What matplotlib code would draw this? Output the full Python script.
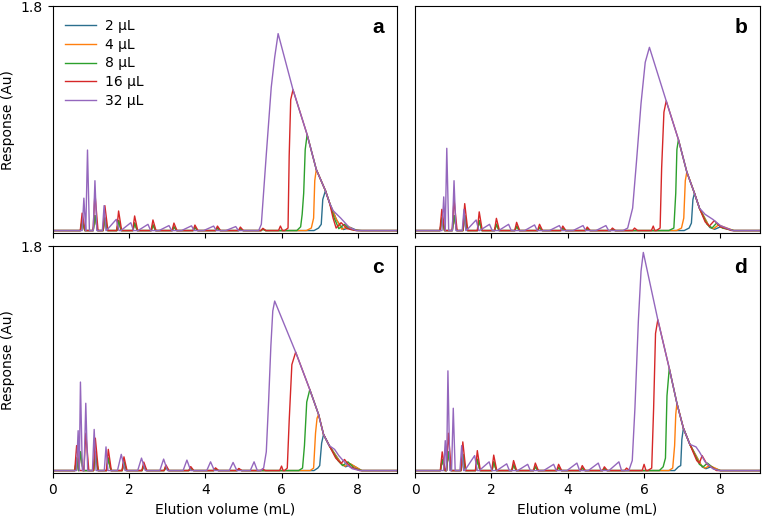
import matplotlib
matplotlib.use("Agg")
import matplotlib.pyplot as plt

# injection volumes and colours
labels = ["2 µL", "4 µL", "8 µL", "16 µL", "32 µL"]
colors = ["#2b6f8e", "#ff7f0e", "#2ca02c", "#d62728", "#9467bd"]
panel_names = ["a", "b", "c", "d"]

# ---- small oligomer peaks (apex x, height) ----
a_red = [(0.775, 0.14), (1.11, 0.30), (1.37, 0.20), (1.73, 0.157), (2.15, 0.117), (2.63, 0.085),
         (3.18, 0.06), (3.73, 0.044), (4.32, 0.036), (4.92, 0.028), (5.51, 0.018), (5.97, 0.036)]
a_low = [(0.775, 0.08), (1.11, 0.12), (1.37, 0.10), (1.73, 0.08), (2.15, 0.06), (2.63, 0.045),
         (3.18, 0.03), (3.73, 0.025), (4.32, 0.02), (4.92, 0.015), (5.51, 0.012)]
a_purple_spikes = [(0.82, 0.26), (0.915, 0.646), (1.11, 0.40), (1.35, 0.20)]
a_purple_bumps = [(1.67, 0.09), (2.05, 0.063), (2.50, 0.05), (3.05, 0.04), (3.64, 0.038),
                  (4.22, 0.036), (4.80, 0.032), (5.40, 0.04)]

b_red = [(0.70, 0.17), (1.02, 0.25), (1.30, 0.216), (1.68, 0.15), (2.13, 0.098), (2.66, 0.066),
         (3.26, 0.05), (3.87, 0.036), (4.51, 0.028), (5.17, 0.02), (5.75, 0.02), (6.24, 0.036)]
b_low = [(0.70, 0.10), (1.02, 0.12), (1.30, 0.12), (1.68, 0.08), (2.13, 0.05), (2.66, 0.035),
         (3.26, 0.025), (3.87, 0.02), (4.51, 0.015), (5.17, 0.01)]
b_purple_spikes = [(0.75, 0.27), (0.83, 0.66), (1.02, 0.40), (1.28, 0.17)]
b_purple_bumps = [(1.60, 0.085), (1.95, 0.05), (2.45, 0.05), (3.13, 0.045), (3.78, 0.04),
                  (4.40, 0.04), (5.00, 0.04), (5.55, 0.045)]

c_red = [(0.63, 0.20), (0.87, 0.30), (1.12, 0.26), (1.46, 0.17), (1.87, 0.11), (2.39, 0.068),
         (2.97, 0.045), (3.62, 0.032), (4.27, 0.022), (4.88, 0.017), (5.50, 0.012), (6.00, 0.036)]
c_low = [(0.63, 0.10), (0.73, 0.15), (1.12, 0.15), (1.46, 0.10), (1.87, 0.07), (2.39, 0.04),
         (2.97, 0.028), (3.62, 0.02), (4.27, 0.015), (4.88, 0.012)]
c_purple_spikes = [(0.67, 0.32), (0.73, 0.71), (0.87, 0.54), (1.09, 0.33), (1.40, 0.19)]
c_purple_bumps = [(1.80, 0.13), (2.33, 0.10), (2.91, 0.092), (3.52, 0.084), (4.14, 0.07),
                  (4.73, 0.065), (5.28, 0.07)]

d_red = [(0.71, 0.15), (0.87, 0.30), (1.25, 0.23), (1.63, 0.16), (2.06, 0.124), (2.58, 0.08),
         (3.15, 0.06), (3.76, 0.05), (4.38, 0.04), (4.96, 0.03), (5.54, 0.02), (6.00, 0.05)]
d_low = [(0.71, 0.09), (0.87, 0.15), (1.25, 0.13), (1.63, 0.09), (2.06, 0.07), (2.58, 0.045),
         (3.15, 0.03), (3.76, 0.025), (4.38, 0.02), (4.96, 0.015)]
d_purple_spikes = [(0.79, 0.24), (0.86, 0.80), (1.00, 0.50), (1.22, 0.20)]
d_purple_bumps = [(1.56, 0.12), (1.94, 0.07), (2.40, 0.054), (2.95, 0.05), (3.63, 0.05),
                  (4.24, 0.06), (4.80, 0.06), (5.34, 0.07)]

# ---- main (overloaded) peak: common descending front ----
a_env = [(5.91, 1.58), (6.30, 1.13), (6.67, 0.77), (6.91, 0.49), (7.15, 0.32), (7.26, 0.22)]
b_env = [(6.14, 1.47), (6.58, 1.04), (6.90, 0.73), (7.12, 0.47), (7.32, 0.30), (7.45, 0.18)]
c_env = [(5.82, 1.36), (6.37, 0.95), (6.74, 0.65), (6.97, 0.45), (7.10, 0.29), (7.25, 0.20)]
d_env = [(5.98, 1.75), (6.36, 1.21), (6.66, 0.82), (6.86, 0.54), (7.03, 0.34), (7.20, 0.21)]

# rising edges (series order 2, 4, 8, 16, 32)
a_rise = [
    [(6.85, 0.0), (6.97, 0.02), (7.04, 0.05), (7.08, 0.25), (7.15, 0.32)],
    [(6.65, 0.0), (6.78, 0.02), (6.84, 0.10), (6.87, 0.40), (6.91, 0.49)],
    [(6.40, 0.0), (6.50, 0.03), (6.54, 0.13), (6.58, 0.30), (6.62, 0.65), (6.67, 0.77)],
    [(6.08, 0.0), (6.17, 0.02), (6.20, 0.60), (6.24, 1.05), (6.30, 1.13)],
    [(5.40, 0.0), (5.47, 0.05), (5.60, 0.61), (5.73, 1.15), (5.82, 1.39), (5.91, 1.58)],
]
b_rise = [
    [(7.05, 0.0), (7.18, 0.02), (7.24, 0.06), (7.28, 0.25), (7.32, 0.30)],
    [(6.85, 0.0), (6.98, 0.02), (7.04, 0.10), (7.08, 0.40), (7.12, 0.47)],
    [(6.65, 0.0), (6.78, 0.02), (6.83, 0.30), (6.86, 0.65), (6.90, 0.73)],
    [(6.32, 0.0), (6.42, 0.02), (6.46, 0.50), (6.52, 0.95), (6.58, 1.04)],
    [(5.45, 0.0), (5.57, 0.02), (5.70, 0.18), (5.80, 0.55), (5.92, 1.02), (6.03, 1.35), (6.14, 1.47)],
]
c_rise = [
    [(6.85, 0.0), (6.95, 0.02), (7.00, 0.04), (7.05, 0.22), (7.10, 0.29)],
    [(6.75, 0.0), (6.84, 0.02), (6.89, 0.30), (6.93, 0.42), (6.97, 0.45)],
    [(6.45, 0.0), (6.55, 0.02), (6.60, 0.20), (6.66, 0.55), (6.74, 0.65)],
    [(6.08, 0.0), (6.15, 0.02), (6.20, 0.40), (6.27, 0.85), (6.37, 0.95)],
    [(5.45, 0.0), (5.53, 0.02), (5.60, 0.15), (5.66, 0.55), (5.72, 1.00), (5.77, 1.28), (5.82, 1.36)],
]
d_rise = [
    [(6.80, 0.0), (6.90, 0.03), (6.96, 0.04), (6.99, 0.25), (7.03, 0.34)],
    [(6.65, 0.0), (6.75, 0.02), (6.80, 0.20), (6.83, 0.45), (6.86, 0.54)],
    [(6.40, 0.0), (6.50, 0.03), (6.56, 0.10), (6.60, 0.60), (6.66, 0.82)],
    [(6.10, 0.0), (6.20, 0.02), (6.25, 0.50), (6.30, 1.10), (6.36, 1.21)],
    [(5.60, 0.0), (5.69, 0.08), (5.76, 0.50), (5.85, 1.20), (5.92, 1.60), (5.98, 1.75)],
]

# tails after leaving the front
a_tail = [
    [(7.45, 0.08), (7.62, 0.008), (7.80, 0.025), (7.95, 0.005), (8.10, 0.0)],
    [(7.42, 0.10), (7.58, 0.01), (7.74, 0.035), (7.90, 0.005), (8.05, 0.0)],
    [(7.38, 0.10), (7.50, 0.015), (7.65, 0.05), (7.80, 0.01), (8.00, 0.0)],
    [(7.35, 0.10), (7.43, 0.02), (7.56, 0.063), (7.72, 0.015), (7.95, 0.0)],
    [(7.35, 0.16), (7.45, 0.13), (7.55, 0.10), (7.78, 0.023), (7.96, 0.0)],
]
b_tail = [
    [(7.72, 0.025), (7.85, 0.01), (8.00, 0.03), (8.35, 0.0)],
    [(7.70, 0.035), (7.82, 0.015), (7.95, 0.045), (8.35, 0.0)],
    [(7.65, 0.05), (7.78, 0.02), (7.90, 0.06), (8.05, 0.02), (8.35, 0.0)],
    [(7.60, 0.07), (7.71, 0.036), (7.84, 0.08), (8.00, 0.03), (8.30, 0.0)],
    [(7.60, 0.13), (7.80, 0.09), (8.00, 0.04), (8.32, 0.0)],
]
c_tail = [
    [(7.58, 0.05), (7.68, 0.03), (7.82, 0.05), (8.10, 0.0)],
    [(7.55, 0.06), (7.66, 0.035), (7.80, 0.055), (8.10, 0.0)],
    [(7.48, 0.08), (7.60, 0.04), (7.74, 0.07), (7.90, 0.02), (8.10, 0.0)],
    [(7.42, 0.10), (7.56, 0.057), (7.65, 0.089), (7.80, 0.03), (8.05, 0.0)],
    [(7.39, 0.17), (7.50, 0.12), (7.70, 0.05), (7.85, 0.015), (8.05, 0.0)],
]
d_tail = [
    [(7.52, 0.03), (7.62, 0.015), (7.75, 0.03), (8.00, 0.0)],
    [(7.50, 0.04), (7.60, 0.02), (7.72, 0.04), (8.00, 0.0)],
    [(7.45, 0.05), (7.55, 0.03), (7.66, 0.06), (7.85, 0.01), (8.00, 0.0)],
    [(7.38, 0.08), (7.45, 0.06), (7.52, 0.12), (7.65, 0.05), (7.90, 0.0)],
    [(7.36, 0.19), (7.45, 0.15), (7.60, 0.07), (7.80, 0.015), (7.97, 0.0)],
]

panels = [
    (a_red, a_low, a_purple_spikes, a_purple_bumps, a_env, a_rise, a_tail),
    (b_red, b_low, b_purple_spikes, b_purple_bumps, b_env, b_rise, b_tail),
    (c_red, c_low, c_purple_spikes, c_purple_bumps, c_env, c_rise, c_tail),
    (d_red, d_low, d_purple_spikes, d_purple_bumps, d_env, d_rise, d_tail),
]
X_END = 9.0


def small_peaks(peaks, wl, wr):
    return [(x, h, wl, wr) for x, h in peaks]


def trace(small, rise, env, tail):
    """Join small peak triangles, the rising edge, the front and the tail into one line."""
    small = sorted(small)
    xs, ys = [0.0], [0.0]
    stop = rise[0][0]
    for i, (x, h, wl, wr) in enumerate(small):
        if x >= stop:
            break
        nxt = small[i + 1][0] if i + 1 < len(small) else stop
        left = max(x - wl, xs[-1])
        right = min(x + wr, (x + nxt) / 2, stop)
        if left < x:
            xs.append(left)
            ys.append(0.0)
        xs.append(x)
        ys.append(h)
        xs.append(right)
        ys.append(0.0)
    for x, y in rise:
        if x > xs[-1]:
            xs.append(x)
            ys.append(y)
    for x, y in env:
        if xs[-1] < x < tail[0][0]:
            xs.append(x)
            ys.append(y)
    for x, y in tail:
        xs.append(x)
        ys.append(y)
    xs.append(X_END + 0.5)
    ys.append(0.0)
    return xs, ys


fig, axes = plt.subplots(2, 2, figsize=(7.62, 5.17), dpi=100, sharex=True, sharey=True)
fig.subplots_adjust(left=0.069, right=0.997, top=0.988, bottom=0.085, wspace=0.052, hspace=0.058)

for k, ax in enumerate(axes.flat):
    red, low, p_spk, p_bmp, env, rise, tail = panels[k]
    symmetric = panel_names[k] == "c"
    for s in range(5):
        if s == 4:
            small = small_peaks(p_spk, 0.045, 0.05)
            if symmetric:
                small += small_peaks(p_bmp, 0.10, 0.10)
            else:
                small += small_peaks(p_bmp, 0.26, 0.07)
        elif s == 3:
            small = small_peaks(red, 0.05, 0.08)
        else:
            small = small_peaks(low, 0.045, 0.07)
        xs, ys = trace(small, rise[s], env, tail[s])
        ax.plot(xs, ys, color=colors[s], lw=1.0, label=labels[s])

    ax.set_xlim(0, 9.03)
    ax.set_ylim(-0.02, 1.8)
    ax.set_xticks([0, 2, 4, 6, 8])
    ax.set_yticks([1.8])
    ax.set_yticklabels(["1.8"])
    ax.tick_params(labelsize=10)
    ax.text(0.945, 0.905, panel_names[k], transform=ax.transAxes, ha="center", va="center",
            fontsize=15, fontweight="bold", family="Liberation Sans")
    if k % 2 == 0:
        ax.set_ylabel("Response (Au)", fontsize=10)
    else:
        ax.tick_params(axis="y", left=False)
    if k >= 2:
        ax.set_xlabel("Elution volume (mL)", fontsize=10)

axes[0, 0].legend(loc="upper left", frameon=False, fontsize=10, handlelength=2.2,
                  handletextpad=0.7, labelspacing=0.35)

fig.savefig("out.png", dpi=100)
